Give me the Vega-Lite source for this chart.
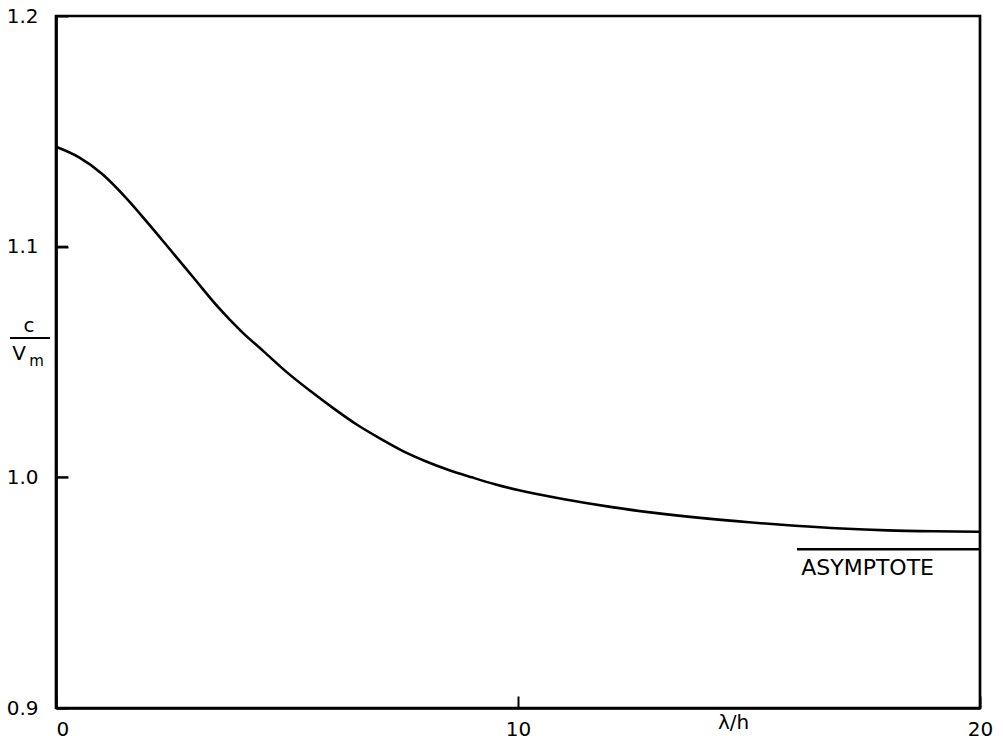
{
  "$schema": "https://vega.github.io/schema/vega-lite/v6.json",
  "width": 924,
  "height": 692,
  "autosize": {"type": "none"},
  "padding": {"left": 56, "top": 16, "right": 23, "bottom": 32},
  "background": "white",
  "config": {
    "view": {"stroke": "black", "strokeWidth": 2.7},
    "font": "DejaVu Sans"
  },
  "layer": [
    {
      "data": {
        "values": [
          {"x": 0, "y": 1.1433},
          {"x": 0.5, "y": 1.1387},
          {"x": 1.0, "y": 1.1315},
          {"x": 1.5, "y": 1.1215},
          {"x": 2.0, "y": 1.110},
          {"x": 2.5, "y": 1.098},
          {"x": 3.0, "y": 1.086},
          {"x": 3.5, "y": 1.074},
          {"x": 4.0, "y": 1.0635},
          {"x": 4.5, "y": 1.0545},
          {"x": 5.0, "y": 1.0455},
          {"x": 5.5, "y": 1.0375},
          {"x": 6.0, "y": 1.030},
          {"x": 6.5, "y": 1.023},
          {"x": 7.0, "y": 1.017},
          {"x": 7.5, "y": 1.0115},
          {"x": 8.0, "y": 1.007},
          {"x": 8.5, "y": 1.0032},
          {"x": 9.0, "y": 1.0000},
          {"x": 9.5, "y": 0.9970},
          {"x": 10, "y": 0.9945},
          {"x": 11, "y": 0.9905},
          {"x": 12, "y": 0.9872},
          {"x": 13, "y": 0.9845},
          {"x": 14, "y": 0.9823},
          {"x": 15, "y": 0.9805},
          {"x": 16, "y": 0.9790},
          {"x": 17, "y": 0.9778},
          {"x": 18, "y": 0.9770},
          {"x": 19, "y": 0.9766},
          {"x": 20, "y": 0.9764}
        ]
      },
      "mark": {"type": "line", "color": "black", "strokeWidth": 2.6, "interpolate": "monotone"},
      "encoding": {
        "x": {
          "field": "x",
          "type": "quantitative",
          "title": "λ/h",
          "scale": {"domain": [0, 20], "nice": false, "zero": false},
          "axis": {
            "values": [0, 10, 20],
            "format": "d",
            "grid": false,
            "domainColor": "black",
            "domainWidth": 2.7,
            "tickColor": "black",
            "tickWidth": 2,
            "tickSize": -12,
            "labelPadding": 23,
            "labelFontSize": 20,
            "labelColor": "black",
            "labelFont": "DejaVu Sans",
            "labelFlush": false,
            "labelOverlap": false,
            "labelAlign": {"expr": "datum.value === 0 ? 'left' : 'center'"},
            "titleFont": "DejaVu Sans",
            "titleFontSize": 20,
            "titleFontWeight": "normal",
            "titleColor": "black",
            "titleX": 677,
            "titleY": 14,
            "titleBaseline": "middle",
            "titleAlign": "center"
          }
        },
        "y": {
          "field": "y",
          "type": "quantitative",
          "title": null,
          "scale": {"domain": [0.9, 1.2], "nice": false, "zero": false},
          "axis": {
            "values": [0.9, 1.0, 1.1, 1.2],
            "format": ".1f",
            "grid": false,
            "domainColor": "black",
            "domainWidth": 2.7,
            "tickColor": "black",
            "tickWidth": 2,
            "tickSize": -12,
            "labelPadding": 30,
            "labelFontSize": 20,
            "labelColor": "black",
            "labelFont": "DejaVu Sans",
            "labelBaseline": "middle",
            "labelFlush": false,
            "labelOverlap": false
          }
        }
      }
    },
    {
      "data": {"values": [{"x": 0, "x2": 0.26, "y": 1.0}, {"x": 0, "x2": 0.26, "y": 1.1}]},
      "mark": {"type": "rule", "color": "black", "strokeWidth": 2},
      "encoding": {
        "x": {"field": "x", "type": "quantitative", "title": "λ/h"},
        "x2": {"field": "x2"},
        "y": {"field": "y", "type": "quantitative", "title": null}
      }
    },
    {
      "data": {"values": [{"x": 16.04, "x2": 20, "y": 0.9688}]},
      "mark": {"type": "rule", "color": "black", "strokeWidth": 2.5},
      "encoding": {
        "x": {"field": "x", "type": "quantitative", "title": "λ/h"},
        "x2": {"field": "x2"},
        "y": {"field": "y", "type": "quantitative", "title": null}
      }
    },
    {
      "data": {"values": [{"x": -0.996, "x2": -0.13, "y": 1.0604}]},
      "mark": {"type": "rule", "color": "black", "strokeWidth": 2, "clip": false},
      "encoding": {
        "x": {"field": "x", "type": "quantitative", "title": "λ/h"},
        "x2": {"field": "x2"},
        "y": {"field": "y", "type": "quantitative", "title": null}
      }
    },
    {
      "data": {"values": [{"x": 16.13, "y": 0.9607, "label": "ASYMPTOTE"}]},
      "mark": {"type": "text", "align": "left", "baseline": "middle", "fontSize": 22, "font": "DejaVu Sans", "color": "black"},
      "encoding": {
        "x": {"field": "x", "type": "quantitative", "title": "λ/h"},
        "y": {"field": "y", "type": "quantitative", "title": null},
        "text": {"field": "label"}
      }
    },
    {
      "data": {"values": [{"x": -0.584, "y": 1.0655, "label": "c"}, {"x": -0.80, "y": 1.0535, "label": "V"}]},
      "mark": {"type": "text", "align": "center", "baseline": "middle", "fontSize": 20, "font": "DejaVu Sans", "color": "black", "clip": false},
      "encoding": {
        "x": {"field": "x", "type": "quantitative", "title": "λ/h"},
        "y": {"field": "y", "type": "quantitative", "title": null},
        "text": {"field": "label"}
      }
    },
    {
      "data": {"values": [{"x": -0.42, "y": 1.0505, "label": "m"}]},
      "mark": {"type": "text", "align": "center", "baseline": "middle", "fontSize": 15, "font": "DejaVu Sans", "color": "black", "clip": false},
      "encoding": {
        "x": {"field": "x", "type": "quantitative", "title": "λ/h"},
        "y": {"field": "y", "type": "quantitative", "title": null},
        "text": {"field": "label"}
      }
    }
  ]
}
